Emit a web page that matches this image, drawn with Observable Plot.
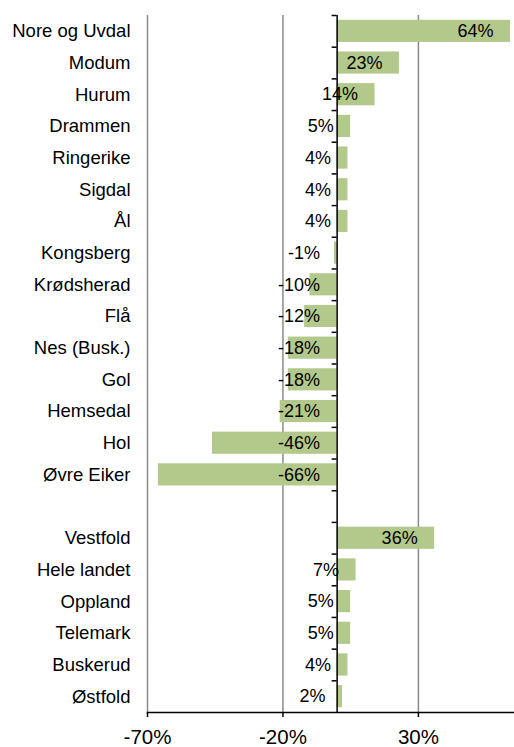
<!DOCTYPE html>
<html>
<head>
<meta charset="utf-8">
<script src="https://cdn.jsdelivr.net/npm/d3@7"></script>
<script src="https://cdn.jsdelivr.net/npm/@observablehq/plot@0.6"></script>
<style>
  html, body { margin: 0; padding: 0; background: #fff; }
  svg { display: block; }
</style>
</head>
<body>
<div id="chart"></div>
<script>
const kommuner = ["Nore og Uvdal","Modum","Hurum","Drammen","Ringerike","Sigdal","Ål","Kongsberg","Krødsherad","Flå","Nes (Busk.)","Gol","Hemsedal","Hol","Øvre Eiker"];
const kommuneValues = [64,23,14,5,4,4,4,-1,-10,-12,-18,-18,-21,-46,-66];
const regioner = ["Vestfold","Hele landet","Oppland","Telemark","Buskerud","Østfold"];
const regionValues = [36,7,5,5,4,2];
const xTicks = [-70,-20,30];

// Build rows: kommuner, one blank row, then regions
const labels = [...kommuner, "", ...regioner];
const rows = [
  ...kommuner.map((name, i) => ({name, value: kommuneValues[i], row: i})),
  ...regioner.map((name, i) => ({name, value: regionValues[i], row: kommuner.length + 1 + i}))
];
const rowIdx = labels.map((_, i) => i);

const font = "Arial, 'Liberation Sans', sans-serif";

const chart = Plot.plot({
  width: 514,
  height: 747,
  marginTop: 15,
  marginBottom: 35,
  marginLeft: 147,
  marginRight: 4,
  style: {fontFamily: font, background: "#fff"},
  x: {domain: [-70, 64]},
  y: {domain: [-0.5, labels.length - 0.5], reverse: true},
  marks: [
    Plot.gridX(xTicks, {stroke: "#8a8a8a", strokeOpacity: 1, strokeWidth: 1.5}),
    Plot.rectX(rows, {
      x1: 0, x2: "value",
      y1: d => d.row - 0.35, y2: d => d.row + 0.35,
      fill: "#b3c98b"
    }),
    Plot.ruleX([0], {stroke: "#000", strokeWidth: 1.5}),
    Plot.ruleY(rowIdx, {y: d => d - 0.5, x1: 0, x2: 0, insetLeft: -5, stroke: "#000", strokeWidth: 1.5}),
    Plot.text(rows, {
      x: d => Math.max(d.value, 0),
      y: "row",
      text: d => `${d.value}%`,
      textAnchor: "end",
      dx: -17,
      fontSize: 18,
      fill: "#000"
    }),
    Plot.axisY({
      ticks: rowIdx,
      tickFormat: i => labels[i],
      tickSize: 0,
      tickPadding: 17,
      fontSize: 18.5,
      fill: "#000",
      label: null
    }),
    Plot.axisX({
      ticks: xTicks,
      tickFormat: d => `${d}%`,
      tickSize: 5,
      tickPadding: 12,
      fontSize: 20.5,
      stroke: "#000",
      fill: "#000",
      strokeWidth: 1.5,
      label: null
    }),
    Plot.frame({anchor: "bottom", stroke: "#000", strokeWidth: 1.5, insetRight: -4})
  ]
});
document.getElementById("chart").appendChild(chart);
</script>
</body>
</html>
